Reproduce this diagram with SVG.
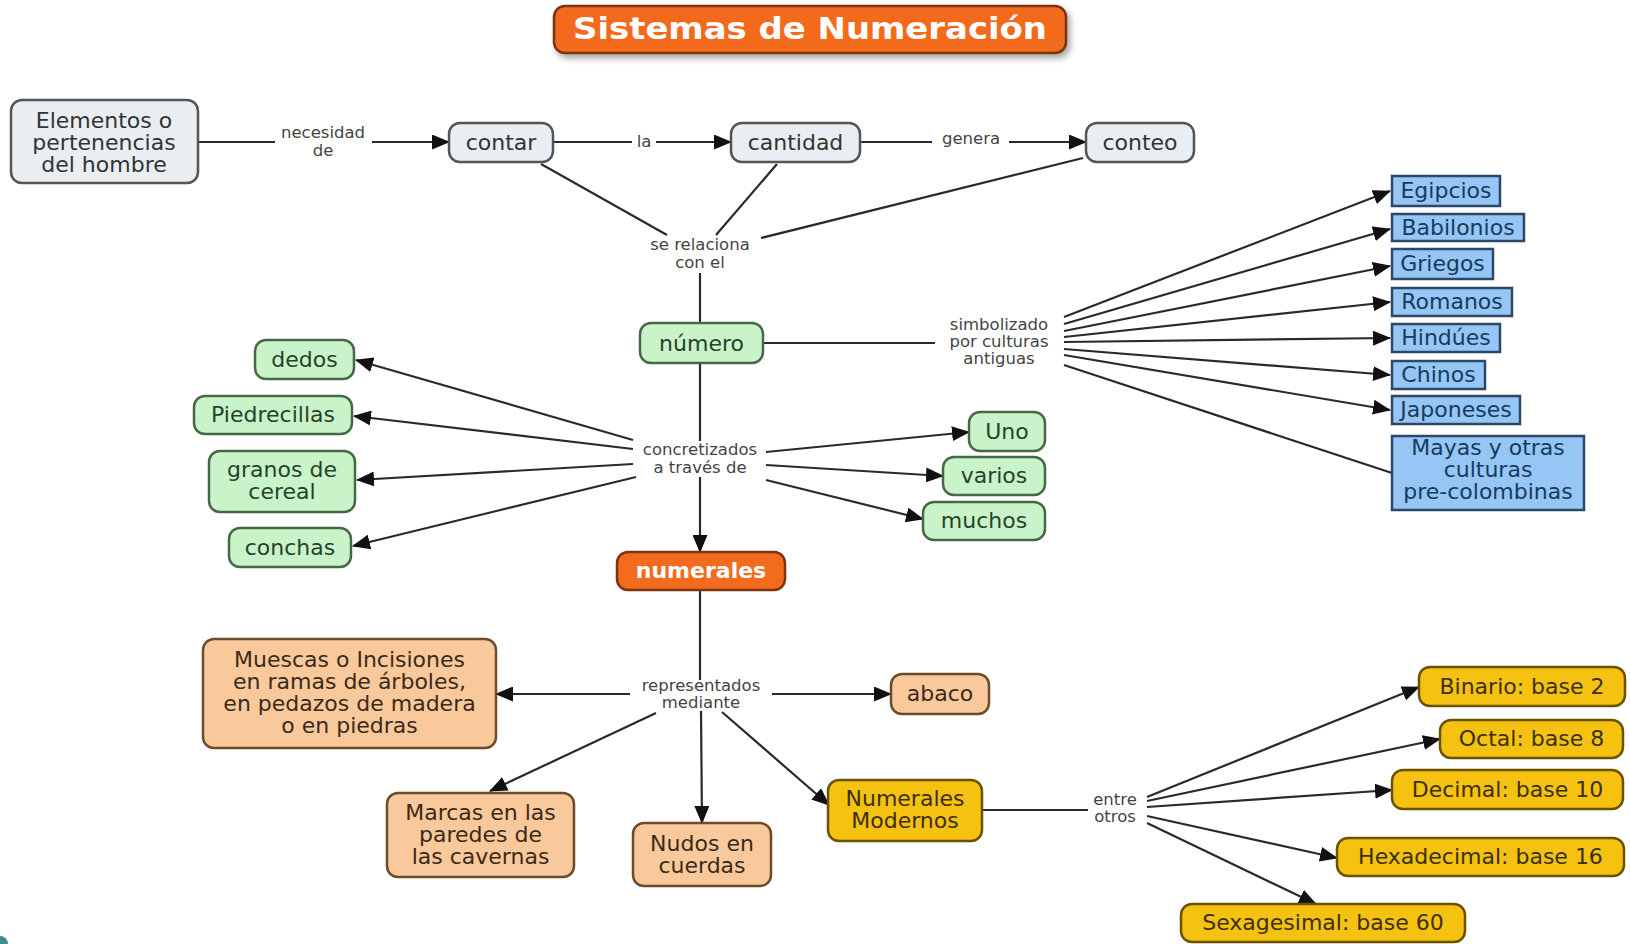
<svg xmlns="http://www.w3.org/2000/svg" width="1630" height="944" viewBox="0 0 1630 944">
<defs>
<style>
.n text{font-family:"DejaVu Sans","Verdana",sans-serif;font-size:22px;text-anchor:middle}
.gray rect{fill:#E8EEF2;stroke:#555;stroke-width:2.5}
.gray text{fill:#333}
.green rect{fill:#C9F4C9;stroke:#476847;stroke-width:2.5}
.green text{fill:#27422a}
.blue rect{fill:#95C6F5;stroke:#2c4866;stroke-width:2.5}
.blue text{fill:#173a5e}
.orange rect{fill:#F36B1C;stroke:#7a3512;stroke-width:2.5}
.orange text{fill:#fff;font-weight:bold}
.peach rect{fill:#F9C99B;stroke:#6e4b2b;stroke-width:2.5}
.peach text{fill:#3b2a1a}
.yellow rect{fill:#F5C211;stroke:#6a5200;stroke-width:2.5}
.yellow text{fill:#3b3000}
.lab{font-family:"DejaVu Sans","Verdana",sans-serif;font-size:16.5px;fill:#444;text-anchor:middle}
.c line{stroke:#2a2a2a;stroke-width:2.2;fill:none}
.c .a{marker-end:url(#arr)}
</style>
<marker id="arr" markerUnits="userSpaceOnUse" markerWidth="19" markerHeight="15" refX="17" refY="7.5" orient="auto">
<path d="M0,0 L18,7.5 L0,15 z" fill="#111"/>
</marker>
<filter id="sh" x="-10%" y="-30%" width="120%" height="170%">
<feDropShadow dx="3" dy="4" stdDeviation="3" flood-color="#000" flood-opacity="0.35"/>
</filter>
</defs>
<rect width="1630" height="944" fill="#fff"/>
<path d="M0,936 A8,8 0 0 1 8,944 L0,944 z" fill="#3f8c8c"/>

<g class="c" id="connectors">
<line x1="198" y1="142" x2="275" y2="142"/>
<line class="a" x1="372" y1="142" x2="449" y2="142"/>
<line x1="554" y1="142" x2="632" y2="142"/>
<line class="a" x1="656" y1="142" x2="731" y2="142"/>
<line x1="861" y1="142" x2="932" y2="142"/>
<line class="a" x1="1009" y1="142" x2="1086" y2="142"/>
<line x1="541" y1="164" x2="667" y2="235"/>
<line x1="777" y1="164" x2="716" y2="235"/>
<line x1="1083" y1="158" x2="761" y2="238"/>
<line x1="700" y1="273" x2="700" y2="323"/>
<line x1="763" y1="343" x2="935" y2="343"/>
<line class="a" x1="1064" y1="317" x2="1390" y2="191"/>
<line class="a" x1="1064" y1="324" x2="1390" y2="229"/>
<line class="a" x1="1064" y1="331" x2="1390" y2="266"/>
<line class="a" x1="1064" y1="337" x2="1390" y2="302"/>
<line class="a" x1="1064" y1="342" x2="1390" y2="338"/>
<line class="a" x1="1064" y1="349" x2="1390" y2="375"/>
<line class="a" x1="1064" y1="355" x2="1390" y2="410"/>
<line x1="1064" y1="365" x2="1392" y2="473"/>
<line x1="700" y1="363" x2="700" y2="441"/>
<line class="a" x1="633" y1="440" x2="356" y2="360"/>
<line class="a" x1="633" y1="449" x2="354" y2="416"/>
<line class="a" x1="633" y1="464" x2="357" y2="480"/>
<line class="a" x1="636" y1="477" x2="353" y2="546"/>
<line class="a" x1="766" y1="452" x2="969" y2="432"/>
<line class="a" x1="766" y1="465" x2="943" y2="476"/>
<line class="a" x1="766" y1="480" x2="923" y2="519"/>
<line class="a" x1="700" y1="477" x2="700" y2="552"/>
<line x1="700" y1="590" x2="700" y2="680"/>
<line class="a" x1="630" y1="694" x2="496" y2="694"/>
<line class="a" x1="772" y1="694" x2="891" y2="694"/>
<line class="a" x1="656" y1="713" x2="490" y2="791"/>
<line class="a" x1="701" y1="711" x2="702" y2="823"/>
<line class="a" x1="722" y1="712" x2="829" y2="805"/>
<line x1="983" y1="810" x2="1088" y2="810"/>
<line class="a" x1="1147" y1="797" x2="1419" y2="687"/>
<line class="a" x1="1147" y1="801" x2="1440" y2="739"/>
<line class="a" x1="1147" y1="807" x2="1392" y2="790"/>
<line class="a" x1="1147" y1="816" x2="1337" y2="858"/>
<line class="a" x1="1147" y1="823" x2="1316" y2="904"/>
</g>

<g id="labels">
<text class="lab" x="323" y="138">necesidad</text>
<text class="lab" x="323" y="156">de</text>
<text class="lab" x="644" y="147">la</text>
<text class="lab" x="971" y="144">genera</text>
<text class="lab" x="700" y="250">se relaciona</text>
<text class="lab" x="700" y="268">con el</text>
<text class="lab" x="999" y="330">simbolizado</text>
<text class="lab" x="999" y="347">por culturas</text>
<text class="lab" x="999" y="364">antiguas</text>
<text class="lab" x="700" y="455">concretizados</text>
<text class="lab" x="700" y="473">a través de</text>
<text class="lab" x="701" y="691">representados</text>
<text class="lab" x="701" y="708">mediante</text>
<text class="lab" x="1115" y="805">entre</text>
<text class="lab" x="1115" y="822">otros</text>
</g>

<g id="title" class="n orange">
<rect x="554" y="6" width="512" height="47" rx="11" filter="url(#sh)"/>
<text x="810" y="39" style="font-size:30px" textLength="474" lengthAdjust="spacingAndGlyphs">Sistemas de Numeración</text>
</g>

<g id="elementos" class="n gray"><rect x="11" y="100" width="187" height="83" rx="11"/>
<text x="104" y="128">Elementos o</text><text x="104" y="150">pertenencias</text><text x="104" y="172">del hombre</text></g>
<g id="contar" class="n gray"><rect x="449" y="123" width="104" height="39" rx="11"/><text x="501" y="150">contar</text></g>
<g id="cantidad" class="n gray"><rect x="731" y="123" width="129" height="39" rx="11"/><text x="795.5" y="150">cantidad</text></g>
<g id="conteo" class="n gray"><rect x="1086" y="123" width="108" height="39" rx="11"/><text x="1140" y="150">conteo</text></g>

<g id="numero" class="n green"><rect x="640" y="323" width="123" height="40" rx="11"/><text x="701.5" y="351">número</text></g>
<g id="dedos" class="n green"><rect x="255" y="340" width="99" height="39" rx="11"/><text x="304.5" y="367">dedos</text></g>
<g id="piedrecillas" class="n green"><rect x="194" y="396" width="158" height="38" rx="11"/><text x="273" y="422">Piedrecillas</text></g>
<g id="granos" class="n green"><rect x="209" y="451" width="146" height="61" rx="11"/><text x="282" y="477">granos de</text><text x="282" y="499">cereal</text></g>
<g id="conchas" class="n green"><rect x="229" y="528" width="122" height="39" rx="11"/><text x="290" y="555">conchas</text></g>
<g id="uno" class="n green"><rect x="969" y="412" width="76" height="39" rx="11"/><text x="1007" y="439">Uno</text></g>
<g id="varios" class="n green"><rect x="943" y="457" width="102" height="38" rx="11"/><text x="994" y="483">varios</text></g>
<g id="muchos" class="n green"><rect x="923" y="502" width="122" height="38" rx="11"/><text x="984" y="528">muchos</text></g>

<g id="egipcios" class="n blue"><rect x="1392" y="176" width="108" height="30"/><text x="1446" y="198">Egipcios</text></g>
<g id="babilonios" class="n blue"><rect x="1392" y="214" width="132" height="27"/><text x="1458" y="235">Babilonios</text></g>
<g id="griegos" class="n blue"><rect x="1392" y="249" width="101" height="30"/><text x="1442.5" y="271">Griegos</text></g>
<g id="romanos" class="n blue"><rect x="1392" y="288" width="120" height="28"/><text x="1452" y="309">Romanos</text></g>
<g id="hindues" class="n blue"><rect x="1392" y="324" width="108" height="28"/><text x="1446" y="345">Hindúes</text></g>
<g id="chinos" class="n blue"><rect x="1392" y="361" width="93" height="28"/><text x="1438.5" y="382">Chinos</text></g>
<g id="japoneses" class="n blue"><rect x="1392" y="396" width="128" height="28"/><text x="1456" y="417">Japoneses</text></g>
<g id="mayas" class="n blue"><rect x="1392" y="436" width="192" height="74"/><text x="1488" y="455">Mayas y otras</text><text x="1488" y="477">culturas</text><text x="1488" y="499">pre-colombinas</text></g>

<g id="numerales" class="n orange"><rect x="617" y="552" width="168" height="38" rx="11"/><text x="701" y="578">numerales</text></g>

<g id="muescas" class="n peach"><rect x="203" y="639" width="293" height="109" rx="11"/>
<text x="349.5" y="667">Muescas o Incisiones</text><text x="349.5" y="689">en ramas de árboles,</text><text x="349.5" y="711">en pedazos de madera</text><text x="349.5" y="733">o en piedras</text></g>
<g id="abaco" class="n peach"><rect x="891" y="674" width="98" height="40" rx="11"/><text x="940" y="701">abaco</text></g>
<g id="marcas" class="n peach"><rect x="387" y="793" width="187" height="84" rx="11"/><text x="480.5" y="820">Marcas en las</text><text x="480.5" y="842">paredes de</text><text x="480.5" y="864">las cavernas</text></g>
<g id="nudos" class="n peach"><rect x="633" y="823" width="138" height="63" rx="11"/><text x="702" y="851">Nudos en</text><text x="702" y="873">cuerdas</text></g>

<g id="modernos" class="n yellow"><rect x="828" y="780" width="154" height="61" rx="11"/><text x="905" y="806">Numerales</text><text x="905" y="828">Modernos</text></g>
<g id="binario" class="n yellow"><rect x="1419" y="667" width="206" height="39" rx="11"/><text x="1522" y="694">Binario: base 2</text></g>
<g id="octal" class="n yellow"><rect x="1440" y="720" width="183" height="38" rx="11"/><text x="1531.5" y="746">Octal: base 8</text></g>
<g id="decimal" class="n yellow"><rect x="1392" y="770" width="231" height="39" rx="11"/><text x="1507.5" y="797">Decimal: base 10</text></g>
<g id="hexadecimal" class="n yellow"><rect x="1337" y="838" width="287" height="38" rx="11"/><text x="1480.5" y="864">Hexadecimal: base 16</text></g>
<g id="sexagesimal" class="n yellow"><rect x="1181" y="904" width="284" height="38" rx="11"/><text x="1323" y="930">Sexagesimal: base 60</text></g>
</svg>
